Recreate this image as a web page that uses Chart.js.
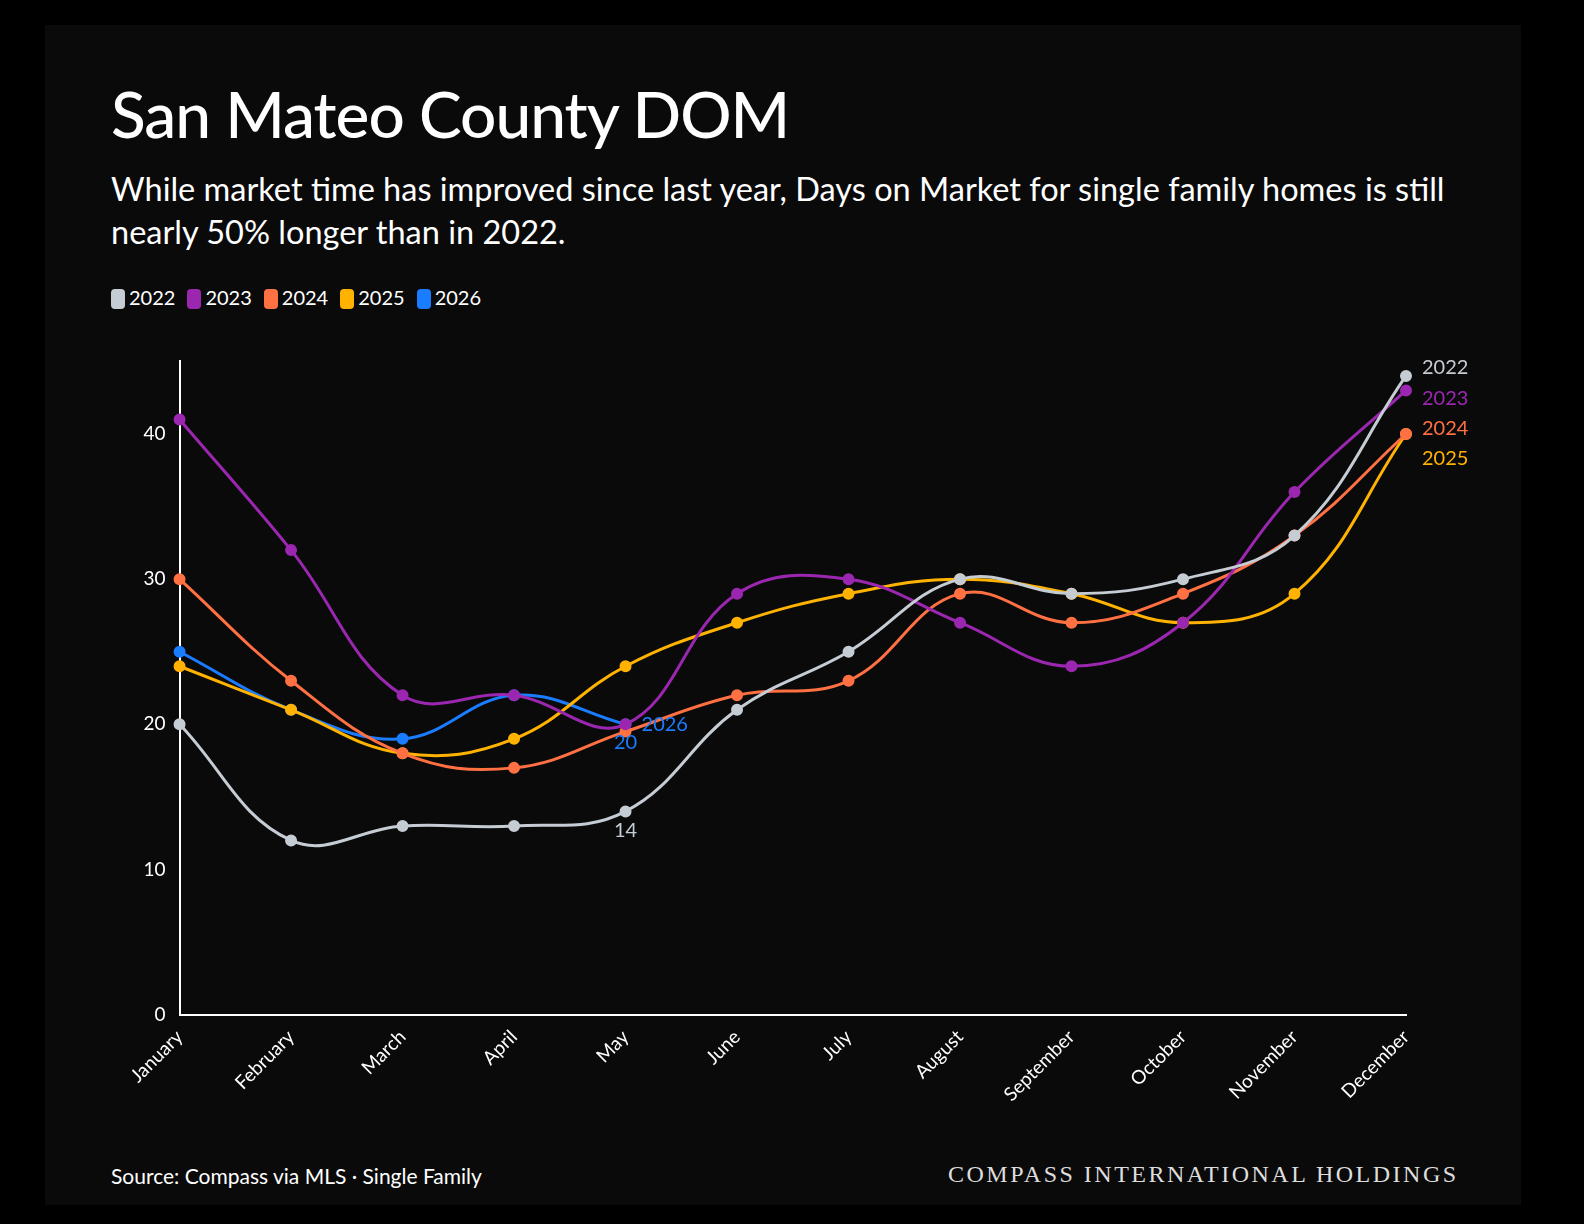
<!DOCTYPE html>
<html><head><meta charset="utf-8">
<script src="https://cdn.jsdelivr.net/npm/chart.js@4"></script>
<style>
body{margin:0;background:#000;width:1584px;height:1224px;overflow:hidden;font-family:"Lato","Noto Sans",sans-serif;}
#panel{position:absolute;left:45px;top:25px;width:1476px;height:1180px;background:#0a0a0a;}
h1{position:absolute;left:66px;top:50px;margin:0;color:#fff;font-size:64px;font-weight:500;letter-spacing:-1px}
#sub{position:absolute;left:66px;top:142px;width:1380px;color:#fff;font-size:32.5px;line-height:43px}
#legend{position:absolute;left:66px;top:260px;color:#fff;font-size:20px;display:flex;gap:12px}
#legend span i{display:inline-block;width:14px;height:20px;border-radius:4px;vertical-align:-4px;margin-right:4px}
#src{position:absolute;left:66px;top:1138px;color:#fff;font-size:21px}
#brand{position:absolute;left:903px;top:1136px;color:#ddd;font-size:24px;font-family:"Liberation Serif",serif;letter-spacing:2.5px}
#wrap{position:absolute;left:86px;top:319px;width:1345px;height:765px}
</style></head><body>
<div id="panel">
<h1>San Mateo County DOM</h1>
<div id="sub">While market time has improved since last year, Days on Market for single family homes is still nearly 50% longer than in 2022.</div>
<div id="legend"></div>
<div id="wrap"><canvas id="c"></canvas></div>
<div id="src">Source: Compass via MLS · Single Family</div>
<div id="brand">COMPASS INTERNATIONAL HOLDINGS</div>
</div>
<script>
const months = ['January','February','March','April','May','June','July','August','September','October','November','December'];
const years = ['2022','2023','2024','2025','2026'];
const colors = ['#c5ccd3','#9b27b0','#ff7043','#ffb300','#1a7cff'];
const dom2022 = [20,12,13,13,14,21,25,30,29,30,33,44];
const dom2023 = [41,32,22,22,20,29,30,27,24,27,36,43];
const dom2024 = [30,23,18,17,19.5,22,23,29,27,29,33,40];
const dom2025 = [24,21,18,19,24,27,29,30,29,27,29,40];
const dom2026 = [25,21,19,22,20];
const yTicks = [0,10,20,30,40];
const series = [dom2022,dom2023,dom2024,dom2025,dom2026];

const lg = document.getElementById('legend');
years.forEach((y,i)=>{ lg.innerHTML += `<span><i style="background:${colors[i]}"></i>${y}</span>`; });

const labelPlugin = {
  id:'labels',
  afterDatasetsDraw(chart){
    const ctx = chart.ctx;
    ctx.save();
    ctx.font = '20px Lato, sans-serif';
    ctx.textBaseline = 'middle';
    const pt = (d,i)=>chart.getDatasetMeta(d).data[i];
    const ends = [[0,-8],[1,8],[2,-5],[3,25]];
    ends.forEach(([d,dy])=>{
      const p = pt(d,11);
      ctx.fillStyle = colors[d];
      ctx.textAlign = 'left';
      ctx.fillText(years[d], p.x+16, p.y+dy);
    });
    let p = pt(4,4);
    ctx.fillStyle = colors[4];
    ctx.fillText('2026', p.x+16, p.y);
    ctx.textAlign = 'center';
    ctx.fillText(String(dom2026[4]), p.x, p.y+18);
    p = pt(0,4);
    ctx.fillStyle = colors[0];
    ctx.fillText(String(dom2022[4]), p.x, p.y+19);
    ctx.restore();
  }
};

new Chart(document.getElementById('c'),{
  type:'line',
  data:{labels:months,datasets:series.map((s,i)=>({
    label:years[i],data:s,borderColor:colors[i],backgroundColor:colors[i],
    borderWidth:3,tension:0.4,pointRadius:4.5,pointHoverRadius:4.5
  }))},
  options:{
    responsive:true,maintainAspectRatio:false,animation:false,
    layout:{padding:{right:70,top:0}},
    plugins:{legend:{display:false},tooltip:{enabled:false}},
    scales:{
      x:{grid:{display:false,drawTicks:true,tickColor:'#fff',tickLength:8},
         border:{color:'#fff',width:2},
         ticks:{color:'#fff',font:{size:19,family:'Lato'},maxRotation:45,minRotation:45}},
      y:{min:0,max:45,afterBuildTicks:a=>{a.ticks=yTicks.map(v=>({value:v}));},
         grid:{display:false,tickColor:'#fff',tickLength:8},
         border:{color:'#fff',width:2},
         ticks:{color:'#fff',font:{size:19,family:'Lato'},padding:6}}
    }
  },
  plugins:[labelPlugin]
});
</script>
</body></html>
